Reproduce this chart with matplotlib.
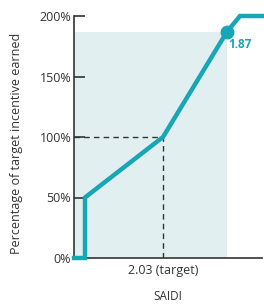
import matplotlib
matplotlib.use("Agg")
import matplotlib.pyplot as plt

# Data (x in relative SAIDI-axis units, y in % of target incentive)
curve_x = [0, 11, 11, 89, 153, 166, 190]
curve_y = [0, 0, 50, 100, 187, 200, 200]
target_x = 89
target_label = "2.03 (target)"
marker_x = 153
marker_y = 187
marker_label = "1.87"
shade_x = [0, 153]
shade_top = 187
yticks = [0, 50, 100, 150, 200]
ytick_labels = ["0%", "50%", "100%", "150%", "200%"]

teal = "#17A6B5"
plt.rcParams['font.family'] = ['Open Sans', 'DejaVu Sans']

fig = plt.figure(figsize=(2.64, 3.04), dpi=100)
ax = fig.add_axes([74/264, 1-258/304, (262-74)/264, (258-16)/304])

ax.fill_between(shade_x, 0, shade_top, color="#E2EFF0", zorder=0, linewidth=0)
ax.plot([0, target_x], [100, 100], color="#333333", lw=1.0, ls=(0, (4, 3)), zorder=2)
ax.plot([target_x, target_x], [0, 100], color="#333333", lw=1.0, ls=(0, (4, 3)), zorder=2)
ax.plot(curve_x, curve_y, color=teal, lw=3.2, solid_joinstyle="miter", clip_on=False, zorder=3)
ax.plot([marker_x], [marker_y], "o", color=teal, ms=9, zorder=4, clip_on=False)
ax.text(marker_x + 1.5, marker_y - 5, marker_label, color=teal, fontsize=8.5, fontweight="bold",
        ha="left", va="top")

ax.set_xlim(0, 188)
ax.set_ylim(0, 200)
ax.set_yticks(yticks)
ax.set_yticklabels(ytick_labels, fontsize=9, color="#333333")
ax.set_xticks([target_x])
ax.set_xticklabels([target_label], fontsize=9, color="#333333")
ax.tick_params(axis="y", direction="in", length=8, width=1.2, color="#333333", pad=2)
ax.tick_params(axis="x", length=0, pad=4)
for s in ["top", "right"]:
    ax.spines[s].set_visible(False)
for s in ["left", "bottom"]:
    ax.spines[s].set_color("#333333")
    ax.spines[s].set_linewidth(1.2)
ax.set_xlabel("SAIDI", fontsize=8.5, color="#333333", labelpad=10)
ax.set_ylabel("Percentage of target incentive earned", fontsize=9, color="#333333")
ax.yaxis.set_label_coords(-0.27, 0.475)

fig.savefig("out.png", dpi=100)
